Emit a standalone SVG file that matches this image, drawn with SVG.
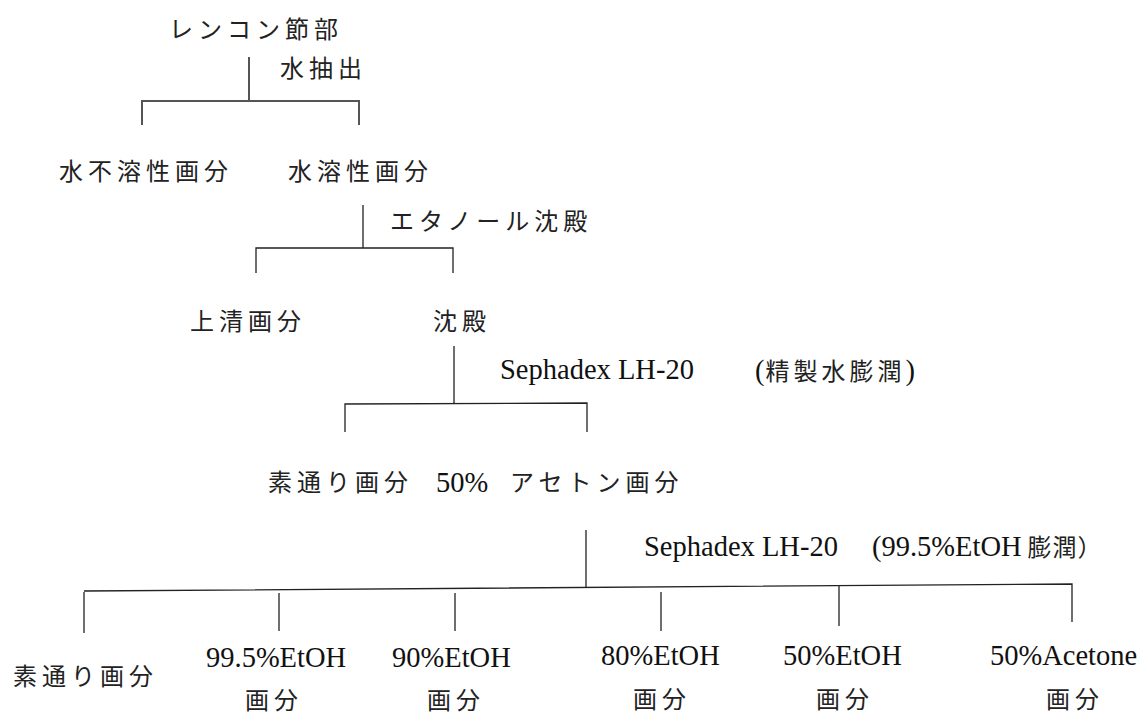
<svg xmlns="http://www.w3.org/2000/svg" width="1148" height="717" viewBox="0 0 1148 717">
<style>
.jp{font-family:"Noto Sans CJK JP","Liberation Serif",sans-serif;font-size:24px;letter-spacing:5px;fill:#222;}
.en{font-family:"Liberation Serif","Noto Sans CJK JP",serif;font-size:28.5px;fill:#111;letter-spacing:0;}
.ln{stroke:#222;stroke-width:1.3;fill:none;}
.ln1{stroke:#555;stroke-width:2;fill:none;}
</style>
<rect width="1148" height="717" fill="#fff"/>
<g id="connectors">
<path class="ln1" d="M249 57V101M142 125V101H359V125"/>
<path class="ln" d="M363 205V248M256 273V248H453V273"/>
<path class="ln" d="M454 346V403M345 432V404L587 403V432"/>
<path class="ln" d="M586 530V588M84 591L1072 584V622"/>
<path class="ln" d="M84 592V633M279 593V631M455 593V631M661 592V631M839 586V626"/>
</g>
<g id="n-renkon"><text class="jp" x="169" y="38">レンコン節部</text></g>
<g id="e-water"><text class="jp" x="280" y="77">水抽出</text></g>
<g id="n-insoluble"><text class="jp" x="59" y="180">水不溶性画分</text></g>
<g id="n-soluble"><text class="jp" x="288" y="180">水溶性画分</text></g>
<g id="e-ethanol"><text class="jp" x="390" y="230">エタノール沈殿</text></g>
<g id="n-supernatant"><text class="jp" x="190" y="330">上清画分</text></g>
<g id="n-precipitate"><text class="jp" x="433" y="330">沈殿</text></g>
<g id="e-sephadex1"><text class="en" x="500" y="379">Sephadex LH-20</text><text x="755" y="380"><tspan class="en">(</tspan><tspan class="jp" dx="1" style="letter-spacing:4px">精製水膨潤</tspan><tspan class="en">)</tspan></text></g>
<g id="n-passthrough1"><text class="jp" x="268" y="491">素通り画分</text></g>
<g id="n-acetone50"><text class="en" x="436" y="492">50%</text><text class="jp" x="510" y="491">アセトン画分</text></g>
<g id="e-sephadex2"><text class="en" x="644" y="556">Sephadex LH-20</text><text x="872" y="556"><tspan class="en">(99.5%EtOH</tspan><tspan class="jp" dx="6" style="letter-spacing:1px">膨潤</tspan><tspan class="jp" style="letter-spacing:0">）</tspan></text></g>
<g id="n-passthrough2"><text class="jp" x="13" y="685">素通り画分</text></g>
<g id="n-e995"><text class="en" x="206" y="667">99.5%EtOH</text><text class="jp" x="245" y="709">画分</text></g>
<g id="n-e90"><text class="en" x="392" y="667">90%EtOH</text><text class="jp" x="427" y="709">画分</text></g>
<g id="n-e80"><text class="en" x="601" y="665">80%EtOH</text><text class="jp" x="633" y="708">画分</text></g>
<g id="n-e50"><text class="en" x="783" y="665">50%EtOH</text><text class="jp" x="816" y="708">画分</text></g>
<g id="n-a50"><text class="en" x="990" y="665">50%Acetone</text><text class="jp" x="1046" y="708">画分</text></g>
</svg>
